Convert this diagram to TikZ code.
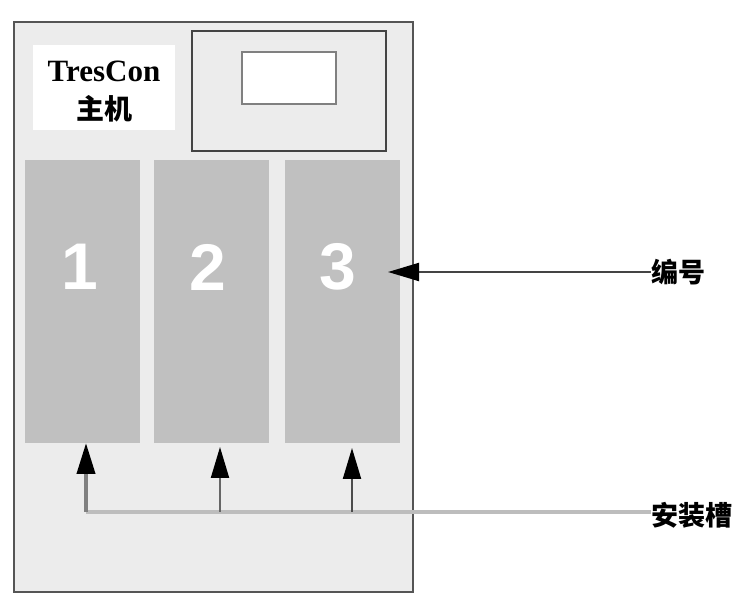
\documentclass[tikz,border=0pt]{standalone}
\usepackage{fontspec}
\setmainfont{Liberation Serif}
\newfontfamily\cjk{Noto Sans CJK SC}
\newfontfamily\digitfont{Liberation Sans}
\usetikzlibrary{arrows.meta}
\definecolor{panel}{HTML}{ECECEC}
\definecolor{slotgray}{HTML}{C0C0C0}
\definecolor{edge}{HTML}{555555}
\definecolor{leader}{HTML}{BDBDBD}
\tikzset{
  slotbox/.style={fill=slotgray, draw=none, minimum width=115pt, minimum height=283pt, inner sep=0pt},
  digit/.style={text=white, inner sep=0pt, font=\digitfont\bfseries\fontsize{66}{66}\selectfont},
  cjklabel/.style={font=\cjk\bfseries\fontsize{27}{27}\selectfont, inner sep=0pt, anchor=west},
  tiphead/.style={-{Triangle[length=31pt,width=18pt,fill=black,color=black]}},
}
\begin{document}
\begin{tikzpicture}[x=1pt,y=-1pt]
\useasboundingbox (0,0) rectangle (737,593);
% outer housing
\draw[edge, line width=2pt, fill=panel] (14,22) rectangle (413,592);
% display frame
\draw[draw=edge!80!black, line width=2pt, fill=panel] (192,31) rectangle (386,151);
\draw[draw=gray, line width=2pt, fill=white] (242,52) rectangle (336,104);
% name plate
\node[fill=white, minimum width=142pt, minimum height=85pt, inner sep=0pt] (plate) at (104,87.5) {};
\node[font=\bfseries\fontsize{31}{31}\selectfont, inner sep=0pt] (name) at (104,71) {TresCon};
\node[font=\cjk\bfseries\fontsize{28}{28}\selectfont, inner sep=0pt] (host) at (104,109) {主机};
% slots
\node[slotbox] (s1) at (82.5,301.5) {};
\node[slotbox] (s2) at (211.5,301.5) {};
\node[slotbox] (s3) at (342.5,301.5) {};
\node[digit] (d1) at (80,267) {1};
\node[digit] (d2) at (208,267) {2};
\node[digit] (d3) at (338,267) {3};
% labels
\node[cjklabel] (num) at (651,272) {编号};
\node[cjklabel] (slotlbl) at (651,515) {安装槽};
% number leader
\coordinate (tipnum) at (388,272);
\draw[tiphead, draw=edge!80!black, line width=2pt] (num.west) -- (tipnum);
% slot leaders
\coordinate (j1) at (86,512);
\coordinate (j2) at (220,512);
\coordinate (j3) at (352,512);
\draw[leader, line width=4pt] (j1) -- (j1 -| num.west);
\draw[tiphead, draw=gray, line width=4pt] (j1) -- (86,443);
\draw[tiphead, draw=gray!80!black, line width=2pt] (j2) -- (220,447);
\draw[tiphead, draw=gray!60!black, line width=2pt] (j3) -- (352,448);
\end{tikzpicture}
\end{document}
